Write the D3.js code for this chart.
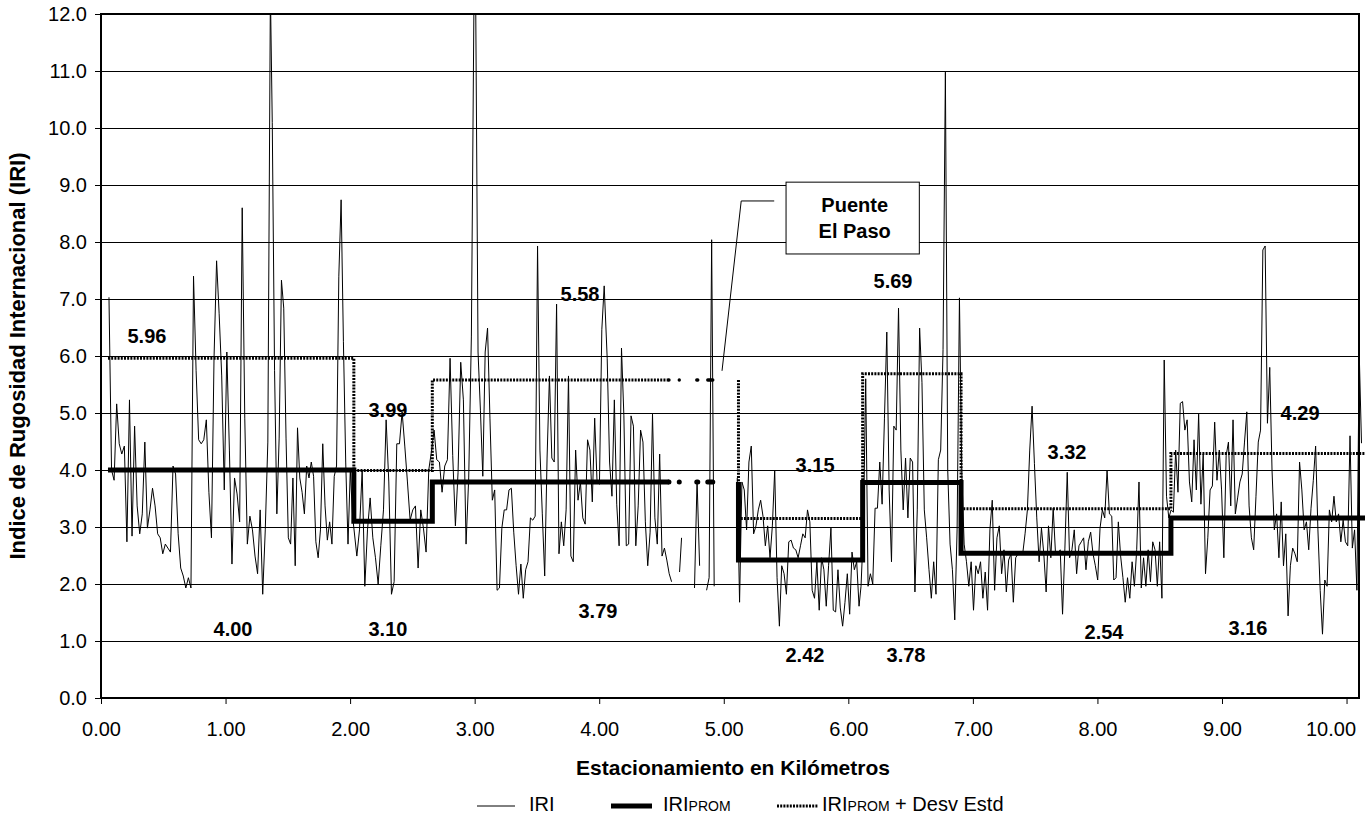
<!DOCTYPE html>
<html>
<head>
<meta charset="utf-8">
<script src="https://cdn.jsdelivr.net/npm/d3@7"></script>
<style>
  body { margin: 0; background: #fff; }
  svg text { font-family: Arial, "Liberation Sans", sans-serif; fill: #000; }
</style>
</head>
<body>
<div id="chart"></div>
<script>
// IRI, por tramos de estaciones (km inicio, km fin)
const iriTramos = [[0.064, 1.36], [1.375, 2.02], [2.054, 2.995], [3.008, 4.04], [4.064, 4.581], [4.645, 4.661], [4.765, 4.806], [4.862, 4.923], [5.108, 6.086], [6.102, 8.115], [8.131, 10.12]];
const iriCortes = [4, 5, 6, 7]; // tramos seguidos de un hueco (puente)

const iri1a = [7.03, 4.00, 3.82, 5.16, 4.46, 4.28, 4.42, 2.74, 5.23, 2.84,
  4.77, 3.37, 2.88, 3.23, 4.49, 2.98, 3.30, 3.68, 3.37, 2.88,
  2.81, 2.53, 2.70, 2.63, 2.56, 4.07, 3.93, 2.88, 2.28, 2.14,
  1.93, 2.11, 1.93, 7.40, 5.75, 4.53, 4.46, 4.53, 4.88, 3.61,
  2.81, 5.96, 7.67, 6.74, 5.65, 3.65, 6.07, 4.35, 2.35, 3.86,
  3.58, 3.09, 8.60, 4.91, 2.70, 3.19, 2.95, 2.49, 2.18, 3.30,
  1.82, 2.95, 4.49, 12.4];
const iri1b = [10.10, 5.75, 3.23, 4.56, 7.33, 6.84,
  4.56, 2.81, 2.70, 3.86, 2.32, 4.74, 3.86, 3.61, 3.23, 4.07,
  3.86, 4.14, 3.89, 2.74, 2.46, 2.95, 4.46, 3.37, 2.77, 3.09,
  2.70, 3.89, 4.07, 7.40, 8.74, 6.25, 4.14, 2.70, 4.00, 3.19];
const iri2a = [2.49, 2.95, 4.00, 1.96, 2.95, 3.51, 2.81, 2.46, 2.00, 2.67,
  3.30, 4.88, 3.79, 1.82, 2.04, 4.46, 4.46, 5.02, 4.42, 3.79,
  3.12, 3.30, 3.37, 2.28, 3.30, 2.98, 2.56, 4.00, 4.32, 4.70,
  4.18, 4.14, 3.61, 4.07, 4.18, 5.96, 4.25, 3.02, 3.96, 5.89,
  5.23, 2.70, 3.86, 6.35, 12.4];
const iri2b = [12.3, 6.07, 5.05, 3.89, 6.07,
  6.49, 4.91, 3.47, 3.65, 1.89, 1.93, 2.98, 3.30, 3.30, 3.65,
  3.68, 2.91, 2.32, 1.82, 2.35, 1.75, 2.25, 2.39, 3.16, 3.12,
  3.19, 7.93, 4.35, 3.23, 2.14, 4.21, 5.65, 4.21, 4.14, 6.91,
  2.53, 3.09, 2.67, 3.30, 5.65, 2.49, 2.39, 4.35, 3.47, 3.79,
  3.16, 3.05, 4.53, 4.35, 3.44, 4.91, 3.79, 3.75, 6.46, 7.23];
const iri3 = [5.96, 4.14, 3.54, 5.23, 3.40, 2.67, 6.14, 4.95, 2.67, 2.70,
  4.95, 4.77, 2.67, 3.37, 4.70, 4.49, 3.09, 2.32, 2.91, 4.98,
  3.16, 2.70, 4.28, 2.49, 2.63, 2.42, 2.18, 2.04];
const iri4 = [2.21, 2.81];
const iri5 = [1.93, 3.82, 2.32];
const iri6 = [1.89, 2.11, 8.04, 1.96];
const iri7 = [3.86, 1.68, 3.79, 3.65, 2.95, 4.14, 4.42, 2.88, 3.02, 3.30,
  3.47, 3.19, 2.67, 3.02, 2.46, 3.02, 4.00, 2.11, 1.26, 2.32,
  2.18, 1.82, 2.74, 2.77, 2.63, 2.60, 2.46, 2.67, 2.88, 2.81,
  3.30, 3.09, 1.89, 1.75, 2.39, 1.54, 2.46, 2.25, 1.61, 2.32,
  2.98, 1.54, 1.51, 2.25, 1.58, 1.26, 1.68, 2.18, 1.47, 2.56,
  2.25, 2.39, 1.61];
const iri8 = [1.96, 2.95, 5.60, 1.96, 2.18, 2.00, 3.33, 3.33, 4.14, 3.40,
  4.91, 6.42, 3.65, 2.39, 4.77, 4.70, 6.84, 4.35, 3.30, 4.21,
  3.16, 4.21, 4.14, 1.86, 3.30, 6.49, 5.54, 3.30, 2.81, 2.25,
  1.75, 2.39, 1.82, 4.18, 4.35, 6.11, 10.98, 4.00, 2.70, 2.25,
  1.37, 2.95, 7.02, 3.96, 2.70, 2.39, 1.96, 2.39, 1.54, 2.32,
  2.18, 2.39, 1.75, 2.21, 1.54, 2.95, 3.47, 1.89, 2.81, 3.02,
  2.18, 2.60, 1.86, 2.42, 2.53, 1.68, 2.46, 2.53, 2.56, 2.53,
  2.88, 3.30, 4.35, 5.12, 4.11, 3.16, 2.39, 2.98, 2.53, 1.86,
  3.02, 2.46, 3.33, 2.53, 2.53, 2.60, 1.47, 2.63, 3.96, 2.46,
  2.60, 2.95, 2.18, 2.67, 2.74, 2.81, 2.25, 2.74, 2.91, 2.53,
  2.32, 2.07, 2.98, 3.30, 3.16, 4.00, 3.23, 3.19];
const iri9 = [2.07, 2.11, 3.09, 2.49, 2.11, 1.68, 2.11, 1.75, 2.39, 1.96,
  2.60, 3.79, 1.93, 2.46, 1.96, 2.60, 2.04, 2.74, 2.60, 1.96,
  2.74, 1.75, 5.93, 3.54, 3.16, 3.30, 3.26, 4.35, 3.61, 5.17,
  5.20, 4.70, 4.88, 3.79, 3.44, 4.53, 3.65, 4.98, 3.40, 4.28,
  2.18, 2.81, 3.65, 3.72, 4.84, 3.82, 4.35, 3.65, 2.46, 4.25,
  4.49, 3.37, 4.88, 3.23, 3.51, 3.79, 3.93, 4.49, 5.02, 3.37,
  2.81, 2.60, 3.54, 4.49, 4.70, 7.86, 7.93, 4.82, 5.80, 4.00,
  2.95, 3.23, 2.46, 3.44, 2.32, 2.88, 1.44, 2.32, 2.63, 2.53,
  2.39, 4.14, 3.65, 2.95, 3.09, 2.60, 3.33, 3.82, 4.42, 2.95,
  1.89, 1.12, 2.07, 1.96, 3.30, 3.09, 3.54, 3.09, 3.23, 2.74,
  3.12, 2.74, 2.67, 4.60, 2.63, 2.95, 1.89, 6.07, 4.47];
const iriSeries = [iri1a, iri1b, iri2a, iri2b, iri3, iri4, iri5, iri6, iri7, iri8, iri9];

// tramos homogeneos
const tramoInicio = [0.056, 2.03, 2.66, 5.118, 6.115, 6.905, 8.59];
const tramoFin = [2.03, 2.66, 4.56, 6.115, 6.905, 8.59, 10.17];
const iriProm = [4.00, 3.10, 3.79, 2.42, 3.78, 2.54, 3.16];
const iriPromDesv = [5.96, 3.99, 5.58, 3.15, 5.69, 3.32, 4.29];
const puenteKm = [4.56, 4.93];

const xTicks = [0, 1, 2, 3, 4, 5, 6, 7, 8, 9, 10];
const yTicks = [0, 1, 2, 3, 4, 5, 6, 7, 8, 9, 10, 11, 12];

function drawChart() {
  let width = 1365,
      height = 817;
  let left = 101, right = 1359, top = 14, bottom = 698;

  let svg = d3.select("div#chart").append("svg")
    .attr("width", width)
    .attr("height", height);

  let x = d3.scaleLinear().domain([0, 10.1]).range([left, right]);
  let y = d3.scaleLinear().domain([0, 12]).range([bottom, top]);

  // gridlines
  svg.append("g").selectAll("line")
    .data(yTicks.slice(1, -1))
    .enter().append("line")
    .attr("x1", left).attr("x2", right)
    .attr("y1", d => Math.round(y(d)) + 0.5).attr("y2", d => Math.round(y(d)) + 0.5)
    .style("stroke", "#000").style("stroke-width", 1);

  svg.append("defs").append("clipPath").attr("id", "clip")
    .append("rect").attr("x", left).attr("y", top).attr("width", width - left).attr("height", bottom - top);

  // IRI
  let puntos = [];
  iriSeries.forEach((serie, t) => {
    let a = iriTramos[t][0], b = iriTramos[t][1];
    serie.forEach((v, i) => {
      let km = serie.length > 1 ? a + (b - a) * i / (serie.length - 1) : a;
      puntos.push({ km: km, v: v });
    });
    if (iriCortes.indexOf(t) >= 0) puntos.push({ km: b, v: null });
  });

  let line = d3.line()
    .defined(d => d.v !== null)
    .x(d => x(d.km))
    .y(d => y(d.v));

  svg.append("path")
    .datum(puntos)
    .attr("clip-path", "url(#clip)")
    .attr("d", line)
    .style("fill", "none")
    .style("stroke", "#000")
    .style("stroke-width", 1);

  // pasos IRIprom e IRIprom + desv
  function escalones(vals, desde, hasta) {
    let pts = [];
    for (let i = desde; i <= hasta; i++) {
      pts.push([tramoInicio[i], vals[i]]);
      pts.push([tramoFin[i], vals[i]]);
    }
    return pts;
  }
  let stepLine = d3.line().x(d => x(d[0])).y(d => y(d[1]));

  let desvA = escalones(iriPromDesv, 0, 2);
  let desvB = [[tramoInicio[3], iriPromDesv[2]]].concat(escalones(iriPromDesv, 3, 6));
  [desvA, desvB].forEach(pts => {
    svg.append("path")
      .attr("d", stepLine(pts))
      .style("fill", "none")
      .style("stroke", "#000")
      .style("stroke-width", 3)
      .style("stroke-dasharray", "2,1.2");
  });

  let promA = escalones(iriProm, 0, 2);
  let promB = [[tramoInicio[3], iriProm[2]]].concat(escalones(iriProm, 3, 6));
  [promA, promB].forEach(pts => {
    svg.append("path")
      .attr("d", stepLine(pts))
      .style("fill", "none")
      .style("stroke", "#000")
      .style("stroke-width", 5)
      .style("stroke-linejoin", "miter");
  });

  // tramo del puente, punteado
  [[iriProm[2], 5], [iriPromDesv[2], 3.4]].forEach(d => {
    svg.append("path")
      .attr("d", stepLine([[puenteKm[0], d[0]], [puenteKm[1], d[0]]]))
      .style("fill", "none")
      .style("stroke", "#000")
      .style("stroke-width", d[1])
      .style("stroke-linecap", "round")
      .style("stroke-dasharray", "0,10.3,0,17.5,1,10,5,100");
  });

  // rotulos de valores
  let posProm = [[1.06, 1.21], [2.304, 1.21], [3.99, 1.53], [5.652, 0.75], [6.463, 0.75], [8.053, 1.16], [9.209, 1.23]];
  let posDesv = [[0.369, 6.35], [2.304, 5.05], [3.846, 7.09], [5.733, 4.09], [6.359, 7.32], [7.756, 4.32], [9.627, 5.0]];
  let rotulos = iriProm.map((v, i) => ({ p: posProm[i], label: v.toFixed(2) }))
    .concat(iriPromDesv.map((v, i) => ({ p: posDesv[i], label: v.toFixed(2) })));
  svg.selectAll("text.rotulo")
    .data(rotulos)
    .enter().append("text")
    .attr("class", "rotulo")
    .attr("x", d => x(d.p[0]))
    .attr("y", d => y(d.p[1]))
    .attr("dy", "0.36em")
    .attr("text-anchor", "middle")
    .style("font-size", "20px")
    .style("font-weight", "bold")
    .text(d => d.label);

  // nota del puente
  let nota = svg.append("g");
  nota.append("path")
    .attr("d", stepLine([[5.405, 8.72], [5.14, 8.72], [4.986, 5.74]]))
    .style("fill", "none").style("stroke", "#000").style("stroke-width", 1);
  nota.append("rect")
    .attr("x", x(5.5)).attr("y", y(9.05))
    .attr("width", x(6.57) - x(5.5)).attr("height", y(7.79) - y(9.05))
    .style("fill", "#fff").style("stroke", "#000").style("stroke-width", 1);
  nota.selectAll("text")
    .data(["Puente", "El Paso"])
    .enter().append("text")
    .attr("x", x(6.035) + 2)
    .attr("y", (d, i) => 212 + i * 26)
    .attr("text-anchor", "middle")
    .style("font-size", "20px")
    .style("font-weight", "bold")
    .text(d => d);

  // marco
  svg.append("rect")
    .attr("x", left).attr("y", top)
    .attr("width", right - left).attr("height", bottom - top)
    .style("fill", "none").style("stroke", "#000").style("stroke-width", 2);

  // ejes
  let yAxis = svg.append("g")
    .attr("transform", "translate(" + left + ",0)")
    .call(d3.axisLeft(y).tickValues(yTicks).tickFormat(d3.format(".1f")).tickSize(6).tickSizeOuter(0).tickPadding(8));
  let xAxis = svg.append("g")
    .attr("transform", "translate(0," + bottom + ")")
    .call(d3.axisBottom(x).tickValues(xTicks).tickFormat(d3.format(".2f")).tickSize(6).tickSizeOuter(0).tickPadding(18));
  [yAxis, xAxis].forEach(g => {
    g.select(".domain").remove();
    g.selectAll("line").style("stroke", "#000").style("stroke-width", 1);
    g.selectAll("text").style("font-size", "20px").style("font-family", "Arial, 'Liberation Sans', sans-serif").attr("fill", "#000");
  });
  // la ultima etiqueta se corre para que quepa
  xAxis.selectAll(".tick").filter(d => d === 10).select("text")
    .attr("text-anchor", "end").attr("x", 9);

  svg.append("text")
    .attr("x", (left + right) / 2 + 3)
    .attr("y", 775)
    .attr("text-anchor", "middle")
    .style("font-size", "21px")
    .style("font-weight", "bold")
    .text("Estacionamiento en Kilómetros");

  svg.append("text")
    .attr("transform", "translate(25," + (top + bottom) / 2 + ") rotate(-90)")
    .attr("text-anchor", "middle")
    .style("font-size", "22px")
    .style("font-weight", "bold")
    .text("Indice de Rugosidad Internacional (IRI)");

  // leyenda
  let ley = svg.append("g");
  let items = [
    { x1: 477, x2: 515, w: 1, dash: null, tx: 529, sub: false },
    { x1: 611, x2: 652, w: 5, dash: null, tx: 663, sub: true },
    { x1: 777, x2: 818, w: 3, dash: "2,1.2", tx: 822, sub: true, extra: " + Desv Estd" }
  ];
  items.forEach(it => {
    ley.append("line")
      .attr("x1", it.x1).attr("x2", it.x2).attr("y1", 806).attr("y2", 806)
      .style("stroke", "#000").style("stroke-width", it.w)
      .style("stroke-dasharray", it.dash);
    let t = ley.append("text").attr("x", it.tx).attr("y", 811).style("font-size", "20px");
    t.append("tspan").text("IRI");
    if (it.sub) t.append("tspan").style("font-size", "14px").text("PROM");
    if (it.extra) t.append("tspan").text(it.extra);
  });
}

drawChart();
</script>
</body>
</html>
